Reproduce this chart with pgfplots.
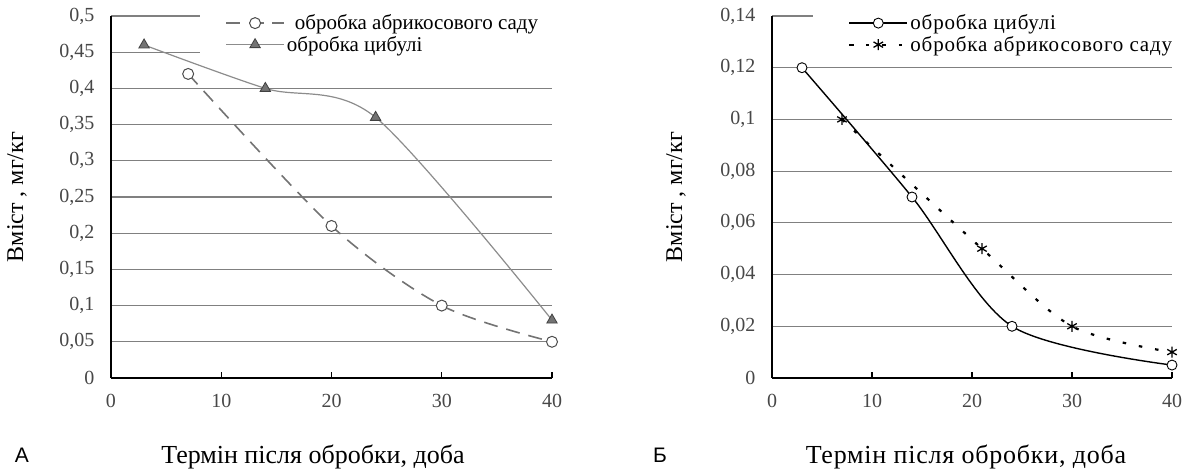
\documentclass[border=0pt]{standalone}
\usepackage{pgfplots}
\pgfplotsset{compat=1.18}
\usepackage{fontspec}
\setmainfont{Liberation Serif}
\newfontfamily\arialfont{Liberation Sans}
\begin{document}
\begin{tikzpicture}[x=1pt,y=1pt]
\path[use as bounding box] (0,0) rectangle (1186,470);
\pgfplotsset{
  mystyle/.style={
    scale only axis, anchor=south west,
    xmin=0, xmax=40, ymin=0,
    axis lines=left, axis line style={-, line width=1.4pt, black},
    xtick={0,10,20,30,40},
    tick align=inside, major tick length=6pt,
    xtick style={black, line width=1.2pt},
    ytick style={draw=none},
    ymajorgrids, grid style={black!50, line width=1.1pt},
    tick label style={font=\fontsize{20}{22}\selectfont, text=black!72},
    xticklabel style={yshift=-13pt},
    yticklabel style={xshift=-13pt},
    /pgf/number format/use comma,
    /pgf/number format/fixed,
    /pgf/number format/assume math mode=true,
    clip=false,
    xlabel style={font=\fontsize{26}{28}\selectfont},
    ylabel style={font=\fontsize{24}{26}\selectfont},
    legend cell align=left,
    legend image code/.code={\draw[mark repeat=2,mark phase=2,##1] plot coordinates {(0pt,0pt) (29pt,0pt) (58pt,0pt)};},
  }
}
\begin{axis}[mystyle, at={(111pt,92pt)}, width=441pt, height=362pt, ymax=0.5,
  ytick={0,0.05,0.1,0.15,0.2,0.25,0.3,0.35,0.4,0.45,0.5},
  xlabel={Термін після обробки, доба},
  xlabel style={at={(axis description cs:0.458,-0.218)}, anchor=center},
  ylabel={Вміст , мг/кг},
  ylabel style={at={(axis description cs:-0.213,0.5)}, anchor=center},
  legend style={at={(axis description cs:0.202,1.012)}, anchor=north west, draw=none, fill=white, inner xsep=25pt, inner ysep=2pt, font=\fontsize{21}{23}\selectfont, row sep=3pt, nodes={inner ysep=1pt}},
]
\addplot[smooth, black!55, line width=1.6pt, dash pattern=on 14pt off 9pt, mark=*, mark options={solid, fill=white, draw=black!70, line width=1pt}, mark size=5.5pt] coordinates {(7,0.42)(20,0.21)(30,0.10)(40,0.05)};
\addlegendentry{\hspace{8pt}обробка абрикосового саду}
\addplot[smooth, black!45, line width=1.2pt, mark=triangle*, mark options={fill=black!55, draw=black!75, line width=0.8pt}, mark size=6pt] coordinates {(3,0.46)(14,0.40)(24,0.36)(40,0.08)};
\addlegendentry{обробка цибулі}
\end{axis}
\begin{axis}[mystyle, at={(772pt,92pt)}, width=400pt, height=362pt, ymax=0.14,
  ytick={0,0.02,0.04,0.06,0.08,0.1,0.12,0.14},
  xlabel={\addfontfeatures{LetterSpace=3}Термін після обробки, доба},
  xlabel style={at={(axis description cs:0.485,-0.218)}, anchor=center},
  ylabel={Вміст , мг/кг},
  ylabel style={at={(axis description cs:-0.24,0.5)}, anchor=center},
  legend style={at={(axis description cs:0.1025,1.012)}, anchor=north west, draw=none, fill=white, inner xsep=35pt, inner ysep=2pt, font=\fontsize{21}{23}\selectfont\addfontfeatures{LetterSpace=4}, row sep=3pt, nodes={inner ysep=1pt}},
]
\addplot[smooth, black, line width=1.4pt, mark=*, mark options={fill=white, draw=black, line width=0.9pt}, mark size=5pt] coordinates {(3,0.12)(14,0.07)(24,0.02)(40,0.005)};
\addlegendentry{обробка цибулі}
\addplot[smooth, black, line width=2.2pt, dash pattern=on 3.5pt off 13pt, mark=asterisk, mark options={solid, line width=1.3pt}, mark size=5.5pt] coordinates {(7,0.10)(21,0.05)(30,0.02)(40,0.01)};
\addlegendentry{обробка абрикосового саду}
\end{axis}
\node[font=\arialfont\fontsize{21}{24}\selectfont] at (22,15) {А};
\node[font=\arialfont\fontsize{21}{24}\selectfont] at (660,15) {Б};
\end{tikzpicture}
\end{document}
